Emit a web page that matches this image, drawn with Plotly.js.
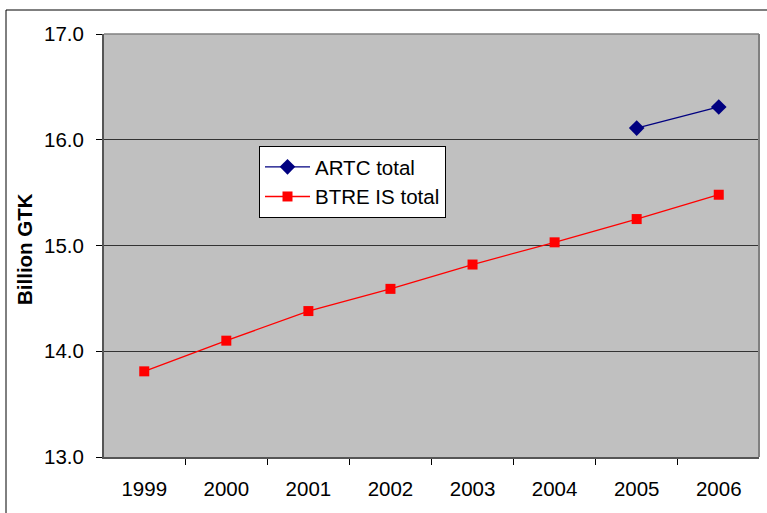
<!DOCTYPE html>
<html>
<head>
<meta charset="utf-8">
<script src="https://cdn.plot.ly/plotly-3.0.1.min.js"></script>
<style>html,body{margin:0;padding:0;background:#fff;}#chart{width:767px;height:513px;}</style>
</head>
<body>
<div id="chart"></div>
<script>
const years = ['1999','2000','2001','2002','2003','2004','2005','2006'];
const artcTotal = [null, null, null, null, null, null, 16.11, 16.31];
const btreTotal = [13.81, 14.10, 14.38, 14.59, 14.82, 15.03, 15.25, 15.48];
const yTicks = [13, 14, 15, 16, 17];
const yTickText = ['13.0', '14.0', '15.0', '16.0', '17.0'];

const font = {family: 'Liberation Sans, Arial, sans-serif', size: 20.5, color: '#000'};

const traces = [
  {x: years, y: artcTotal, name: 'ARTC total', type: 'scatter', mode: 'lines+markers',
   line: {color: '#000080', width: 1.3}, marker: {symbol: 'diamond', size: 12, color: '#000080'}},
  {x: years, y: btreTotal, name: 'BTRE IS total', type: 'scatter', mode: 'lines+markers',
   line: {color: '#ff0000', width: 1.3}, marker: {symbol: 'square', size: 10, color: '#ff0000'}}
];

const L = 104, T = 34, W = 655, H = 423;
const layout = {
  width: 767, height: 513,
  margin: {l: L, r: 767 - L - W, t: T, b: 513 - T - H, pad: 0},
  paper_bgcolor: '#ffffff', plot_bgcolor: '#c0c0c0',
  font: font,
  showlegend: true,
  legend: {x: (259 - L) / W, y: 1 - (146 - T) / H, xanchor: 'left', yanchor: 'top',
    bgcolor: '#ffffff', bordercolor: '#000000', borderwidth: 1, font: font,
    itemwidth: 45, tracegroupgap: 0},
  xaxis: {type: 'category', tickson: 'boundaries', ticks: 'outside', ticklen: 6, tickcolor: '#000',
    showgrid: false, showline: true, linecolor: '#555', linewidth: 2, zeroline: false,
    tickfont: font, ticklabelstandoff: 12},
  yaxis: {range: [13, 17], tickvals: yTicks, ticktext: yTickText, ticks: 'outside', ticklen: 6,
    tickcolor: '#000', showgrid: true, gridcolor: '#333', gridwidth: 1, showline: true,
    linecolor: '#555', linewidth: 2, zeroline: false, tickfont: font, ticklabelstandoff: 8},
  shapes: [
    {type: 'line', xref: 'paper', yref: 'paper', x0: 0, x1: 1, y0: 1, y1: 1, line: {color: '#808080', width: 1.5}},
    {type: 'line', xref: 'paper', yref: 'paper', x0: 1, x1: 1, y0: 0, y1: 1, line: {color: '#808080', width: 2}},
    {type: 'rect', xref: 'paper', yref: 'paper', x0: (6 - L) / W, x1: (800 - L) / W,
     y0: 1 - (560 - T) / H, y1: 1 + (T - 10) / H, line: {color: '#000', width: 1}, fillcolor: 'rgba(0,0,0,0)', layer: 'below'}
  ],
  annotations: [
    {text: '<b>Billion GTK</b>', xref: 'paper', yref: 'paper', x: (25 - L) / W, y: 1 - (249 - T) / H,
     textangle: -90, showarrow: false, font: {family: font.family, size: 20.5, color: '#000'},
     xanchor: 'center', yanchor: 'middle'}
  ]
};

Plotly.newPlot('chart', traces, layout, {displayModeBar: false, staticPlot: true});
</script>
</body>
</html>
